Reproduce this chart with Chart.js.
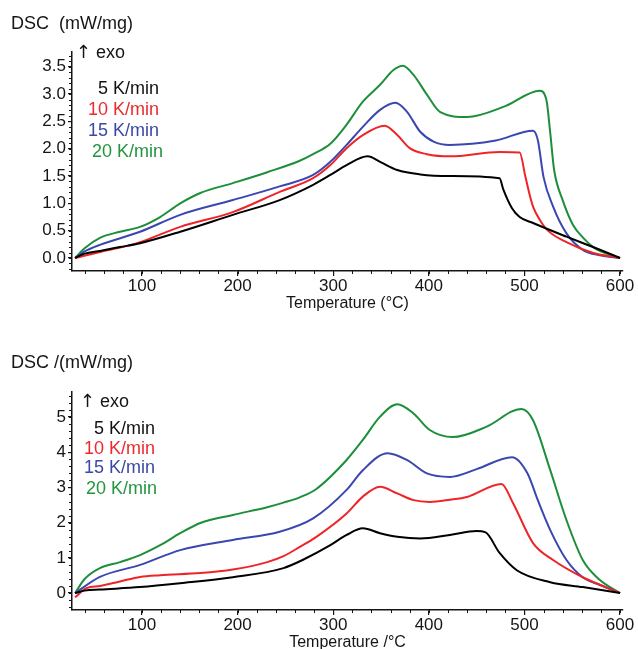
<!DOCTYPE html>
<html>
<head>
<meta charset="utf-8">
<script src="https://cdn.jsdelivr.net/npm/chart.js@4.4.0/dist/chart.umd.min.js"></script>
<style>
body { margin:0; width:638px; height:649px; overflow:hidden; background:#fff; font-family:"Liberation Sans", Arial, sans-serif; color:#151515; }
.panel { position:absolute; left:0; width:638px; }
.txt { position:absolute; white-space:pre; font-size:18px; line-height:20px; }
.rate { width:100px; text-align:right; }
.arr { font-family:"DejaVu Sans", sans-serif; font-size:18px; }
</style>
</head>
<body>
<div class="panel" style="top:0;height:320px"><canvas id="topChart"></canvas></div>
<div class="panel" style="top:330px;height:325px"><canvas id="bottomChart"></canvas></div>

<div class="txt" style="left:11px;top:13px">DSC  (mW/mg)</div>
<div class="txt" style="left:76px;top:42px"><span class="arr">↑</span> exo</div>
<div class="txt rate" style="left:59px;top:78px;color:#111">5 K/min</div>
<div class="txt rate" style="left:59px;top:99px;color:#ec2a2e">10 K/min</div>
<div class="txt rate" style="left:59px;top:120px;color:#3b48a8">15 K/min</div>
<div class="txt rate" style="left:63px;top:141px;color:#23953f">20 K/min</div>

<div class="txt" style="left:11px;top:352px">DSC /(mW/mg)</div>
<div class="txt" style="left:80px;top:391px"><span class="arr">↑</span> exo</div>
<div class="txt rate" style="left:55px;top:418px;color:#111">5 K/min</div>
<div class="txt rate" style="left:55px;top:438px;color:#ec2a2e">10 K/min</div>
<div class="txt rate" style="left:55px;top:457px;color:#3b48a8">15 K/min</div>
<div class="txt rate" style="left:57px;top:478px;color:#23953f">20 K/min</div>

<script>
// heating rates
var rates = ['5 K/min', '10 K/min', '15 K/min', '20 K/min'];
var colors = ['#000000', '#ee2528', '#3a47b0', '#1d8f3a'];

// axis ticks
var tempTicks = [100, 200, 300, 400, 500, 600];
var topDscTicks = [0, 0.5, 1, 1.5, 2, 2.5, 3, 3.5];
var bottomDscTicks = [0, 1, 2, 3, 4, 5];

// upper plot, temperature (°C) / DSC (mW/mg)
var topTemp5 = [30, 40, 56, 77, 98, 140, 195, 244, 279, 297, 314, 336, 349, 367, 391, 422, 474, 478, 487, 495, 509, 544, 579, 600];
var topDsc5 = [0, 0.08, 0.13, 0.2, 0.27, 0.48, 0.79, 1.06, 1.34, 1.52, 1.70, 1.86, 1.76, 1.61, 1.53, 1.50, 1.46, 1.25, 0.91, 0.75, 0.64, 0.39, 0.15, 0];

var topTemp10 = [30, 56, 77, 98, 140, 195, 244, 279, 297, 314, 331, 354, 367, 380, 398, 422, 474, 495, 501, 506, 509, 516, 524, 544, 572, 600];
var topDsc10 = [0, 0.11, 0.19, 0.29, 0.57, 0.84, 1.21, 1.46, 1.70, 2.01, 2.25, 2.42, 2.25, 2.01, 1.90, 1.86, 1.94, 1.93, 1.49, 1.12, 0.94, 0.70, 0.51, 0.29, 0.09, 0];

var topTemp15 = [30, 40, 56, 98, 140, 195, 244, 279, 297, 314, 331, 349, 365, 377, 391, 405, 422, 470, 509, 514, 520, 530, 544, 561, 579, 600];
var topDsc15 = [0, 0.12, 0.24, 0.48, 0.79, 1.06, 1.31, 1.52, 1.76, 2.07, 2.40, 2.71, 2.84, 2.68, 2.31, 2.13, 2.07, 2.15, 2.33, 2.16, 1.48, 0.94, 0.45, 0.15, 0.05, 0];

var topTemp20 = [30, 40, 56, 77, 98, 119, 140, 161, 195, 231, 265, 279, 297, 314, 331, 349, 363, 373, 384, 398, 412, 440, 480, 516, 523, 527, 531, 540, 551, 562, 572, 586, 600];
var topDsc20 = [0, 0.18, 0.37, 0.48, 0.57, 0.75, 1.0, 1.19, 1.37, 1.57, 1.78, 1.90, 2.09, 2.44, 2.86, 3.17, 3.44, 3.52, 3.35, 2.99, 2.67, 2.58, 2.78, 3.06, 2.89, 2.29, 1.62, 1.06, 0.60, 0.36, 0.2, 0.08, 0];

// lower plot, temperature (°C) / DSC (mW/mg)
var botTemp5 = [30, 40, 56, 98, 140, 195, 248, 268, 297, 314, 331, 349, 367, 391, 422, 450, 459, 474, 492, 527, 561, 600];
var botDsc5 = [0, 0.07, 0.10, 0.17, 0.28, 0.45, 0.71, 0.94, 1.36, 1.65, 1.84, 1.70, 1.60, 1.55, 1.65, 1.76, 1.73, 1.14, 0.65, 0.31, 0.17, 0];

var botTemp10 = [30, 42, 56, 77, 98, 119, 161, 195, 231, 248, 265, 282, 314, 331, 349, 367, 384, 401, 422, 440, 476, 488, 509, 530, 561, 585, 600];
var botDsc10 = [-0.12, 0.14, 0.2, 0.33, 0.46, 0.51, 0.57, 0.67, 0.88, 1.05, 1.31, 1.59, 2.26, 2.74, 3.02, 2.83, 2.64, 2.59, 2.65, 2.73, 3.10, 2.56, 1.42, 0.94, 0.45, 0.17, 0];

var botTemp15 = [30, 56, 98, 140, 195, 244, 279, 314, 331, 357, 377, 398, 422, 450, 487, 503, 514, 527, 544, 561, 579, 600];
var botDsc15 = [0, 0.46, 0.80, 1.22, 1.51, 1.74, 2.12, 2.93, 3.49, 3.97, 3.78, 3.40, 3.30, 3.52, 3.86, 3.41, 2.64, 1.79, 0.94, 0.45, 0.23, 0];

var botTemp20 = [30, 40, 56, 77, 98, 119, 140, 161, 195, 231, 248, 265, 282, 314, 331, 349, 367, 384, 401, 425, 460, 497, 509, 527, 544, 561, 579, 600];
var botDsc20 = [0, 0.4, 0.71, 0.88, 1.08, 1.36, 1.70, 1.99, 2.22, 2.44, 2.57, 2.72, 2.95, 3.78, 4.35, 5.01, 5.36, 5.10, 4.63, 4.43, 4.72, 5.23, 4.91, 3.49, 2.07, 0.94, 0.37, 0];

function pts(xs, ys) {
  return xs.map(function(x, i) { return {x: x, y: ys[i]}; });
}

function series(temps, dscs) {
  return temps.map(function(t, i) {
    return {
      label: rates[i],
      data: pts(t, dscs[i]),
      borderColor: colors[i],
      borderWidth: 2,
      pointRadius: 0,
      fill: false,
      cubicInterpolationMode: 'monotone'
    };
  });
}

// small minor ticks along both axes
var minorTicks = {
  id: 'minorTicks',
  afterDraw: function(chart, args, opts) {
    var ctx = chart.ctx, xs = chart.scales.x, ys = chart.scales.y;
    ctx.save();
    ctx.strokeStyle = '#151515';
    ctx.lineWidth = 1;
    ctx.beginPath();
    var v, p;
    for (v = Math.ceil(xs.min / opts.x) * opts.x; v <= xs.max; v += opts.x) {
      p = Math.round(xs.getPixelForValue(v)) + 0.5;
      ctx.moveTo(p, xs.top);
      ctx.lineTo(p, xs.top + 3);
    }
    for (v = Math.ceil(ys.min / opts.y) * opts.y; v <= ys.max; v += opts.y) {
      p = Math.round(ys.getPixelForValue(v)) + 0.5;
      ctx.moveTo(ys.right, p);
      ctx.lineTo(ys.right - 3, p);
    }
    ctx.stroke();
    ctx.restore();
  }
};

function makeChart(id, datasets, cfg) {
  return new Chart(document.getElementById(id), {
    type: 'line',
    data: { datasets: datasets },
    plugins: [minorTicks],
    options: {
      responsive: true,
      maintainAspectRatio: false,
      animation: false,
      events: [],
      layout: { padding: { top: cfg.top, right: 15, left: 0, bottom: 0 } },
      plugins: {
        legend: { display: false },
        tooltip: { enabled: false },
        minorTicks: { x: 20, y: cfg.minor }
      },
      scales: {
        x: {
          type: 'linear',
          min: 26.8,
          max: 603.1,
          afterBuildTicks: function(s) { s.ticks = tempTicks.map(function(v) { return {value: v}; }); },
          afterFit: function(s) { s.height = cfg.xh; },
          grid: { drawOnChartArea: false, tickLength: 5, color: '#151515', lineWidth: 1.2 },
          border: { color: '#151515', width: 1.5 },
          ticks: { color: '#151515', padding: 0, maxRotation: 0, font: { family: 'Liberation Sans', size: 17 } },
          title: { display: true, text: cfg.xTitle, color: '#151515', padding: { top: 0, bottom: cfg.titlePad }, font: { family: 'Liberation Sans', size: 16 } }
        },
        y: {
          min: cfg.ymin,
          max: cfg.ymax,
          afterBuildTicks: function(s) { s.ticks = cfg.yTicks.map(function(v) { return {value: v}; }); },
          afterFit: function(s) { s.width = 72; },
          grid: { drawOnChartArea: false, tickLength: 4, color: '#151515', lineWidth: 1.2 },
          border: { color: '#151515', width: 1.5 },
          ticks: {
            color: '#151515', padding: 2, font: { family: 'Liberation Sans', size: 17 },
            callback: function(v) { return v.toFixed(cfg.dec); }
          }
        }
      }
    }
  });
}

makeChart('topChart', series([topTemp5, topTemp10, topTemp15, topTemp20], [topDsc5, topDsc10, topDsc15, topDsc20]), {
  top: 52, xh: 49, ymin: -0.238, ymax: 3.77, yTicks: topDscTicks, dec: 1, minor: 0.1,
  xTitle: 'Temperature (°C)', titlePad: 7
});

makeChart('bottomChart', series([botTemp5, botTemp10, botTemp15, botTemp20], [botDsc5, botDsc10, botDsc15, botDsc20]), {
  top: 62, xh: 45, ymin: -0.48, ymax: 5.71, yTicks: bottomDscTicks, dec: 0, minor: 0.2,
  xTitle: 'Temperature /°C', titlePad: 3
});
</script>
</body>
</html>
